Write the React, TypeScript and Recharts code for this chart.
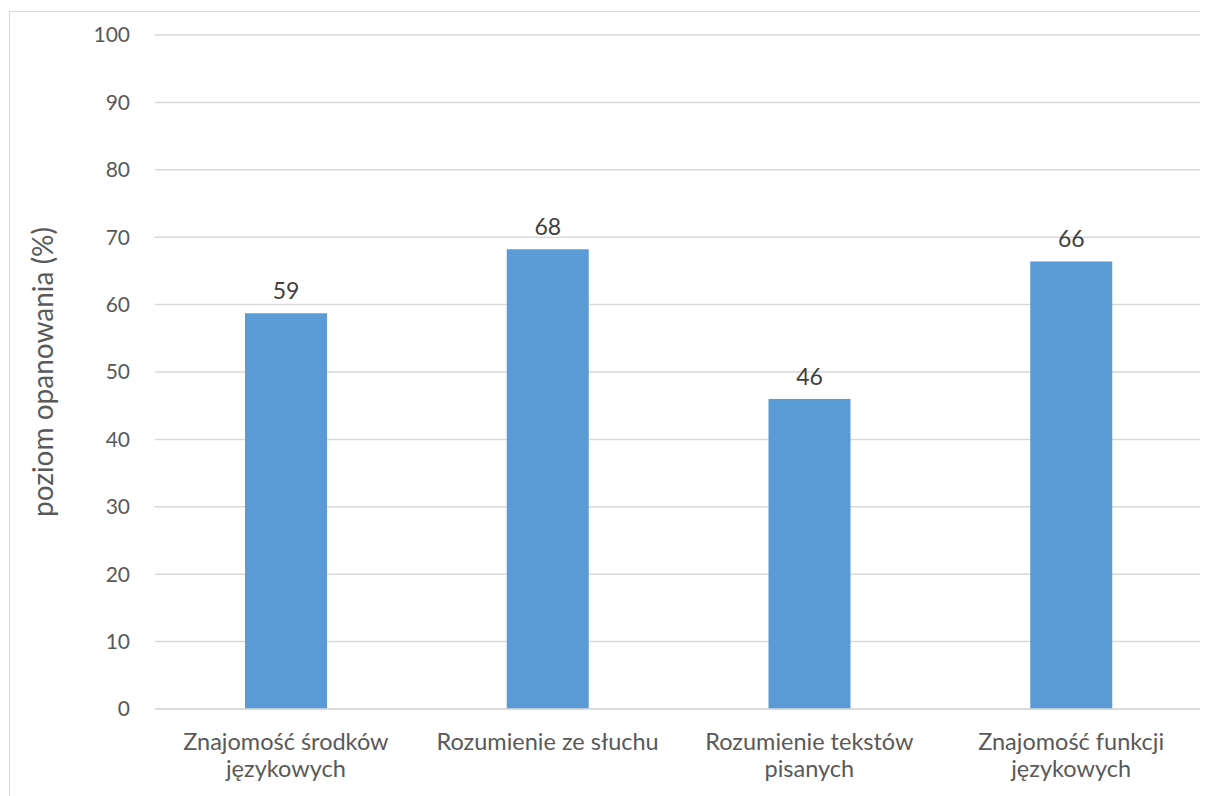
import { BarChart, Bar, XAxis, YAxis, CartesianGrid, LabelList, Label } from 'recharts';

const categories = [
  'Znajomość środków językowych',
  'Rozumienie ze słuchu',
  'Rozumienie tekstów pisanych',
  'Znajomość funkcji językowych',
];
const values = [58.7, 68.2, 46.0, 66.4];
const yTicks = [0, 10, 20, 30, 40, 50, 60, 70, 80, 90, 100];

const data = categories.map((name, i) => ({ name, value: values[i] }));

const FONT = 'Lato, "Open Sans", sans-serif';

// greedy word wrap by character count
function wrap(label: string, max = 20) {
  const lines: string[] = [];
  let cur = '';
  for (const w of label.split(' ')) {
    const next = cur ? cur + ' ' + w : w;
    if (next.length > max && cur) {
      lines.push(cur);
      cur = w;
    } else {
      cur = next;
    }
  }
  if (cur) lines.push(cur);
  return lines;
}

function CategoryTick(props: any) {
  const { x, y, payload } = props;
  const lines = wrap(String(payload.value));
  return (
    <text
      x={x}
      y={y + 33}
      textAnchor="middle"
      fill="#595959"
      style={{ fontSize: 23.5, fontFamily: FONT }}
    >
      {lines.map((l, i) => (
        <tspan key={i} x={x} dy={i === 0 ? 0 : 27}>
          {l}
        </tspan>
      ))}
    </text>
  );
}

export default function App() {
  return (
    <div style={{ position: 'relative', width: 1200, height: 788, overflow: 'hidden', background: '#fff' }}>
      <div
        style={{
          position: 'absolute',
          left: 1,
          top: 3,
          width: 1300,
          height: 900,
          border: '1px solid #d9d9d9',
        }}
      />
      <div style={{ position: 'absolute', left: 0, top: 0 }}>
        <BarChart
          width={1200}
          height={788}
          data={data}
          margin={{ top: 27, right: 6, bottom: 0, left: 0 }}
          barCategoryGap={0}
        >
          <CartesianGrid vertical={false} stroke="#d9d9d9" strokeWidth={1.5} />
          <XAxis
            dataKey="name"
            height={87}
            axisLine={{ stroke: '#d9d9d9', strokeWidth: 1.5 }}
            tickLine={false}
            interval={0}
            tick={<CategoryTick />}
          />
          <YAxis
            width={147}
            domain={[0, 100]}
            ticks={yTicks}
            axisLine={false}
            tickLine={false}
            tickMargin={19}
            tick={{ fill: '#595959', fontSize: 21, fontFamily: FONT }}
          >
            <Label
              value="poziom opanowania (%)"
              angle={-90}
              position="insideLeft"
              offset={35}
              style={{ textAnchor: 'middle', fill: '#595959', fontSize: 28, fontFamily: FONT }}
            />
          </YAxis>
          <Bar dataKey="value" fill="#5b9bd5" barSize={82} isAnimationActive={false}>
            <LabelList
              dataKey="value"
              position="top"
              offset={14}
              formatter={(v: any) => Math.round(Number(v))}
              style={{ fill: '#404040', fontSize: 23, fontFamily: FONT }}
            />
          </Bar>
        </BarChart>
      </div>
    </div>
  );
}
